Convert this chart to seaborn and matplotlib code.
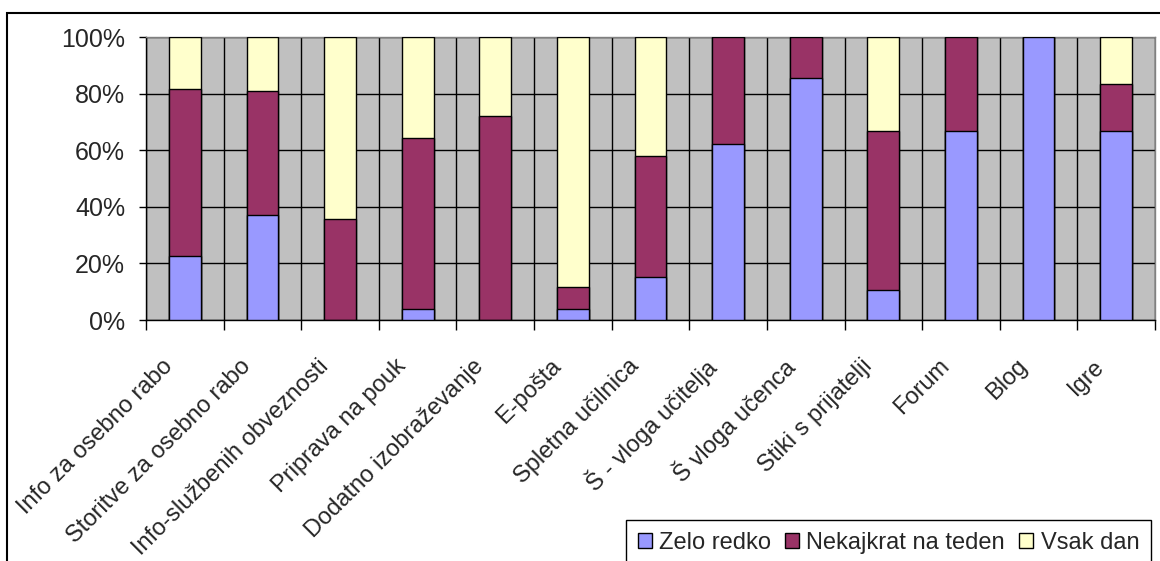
import numpy as np
import matplotlib
matplotlib.use("Agg")
import matplotlib.pyplot as plt
import matplotlib.transforms as mtrans
from matplotlib.patches import Rectangle, Patch
from matplotlib.ticker import FuncFormatter
import seaborn as sns

categories = ["Info za osebno rabo", "Storitve za osebno rabo", "Info-službenih obveznosti",
              "Priprava na pouk", "Dodatno izobraževanje", "E-pošta", "Spletna učilnica",
              "Š - vloga učitelja", "Š vloga učenca", "Stiki s prijatelji", "Forum", "Blog", "Igre"]
zelo_redko = [22.7, 37.1, 0.0, 3.9, 0.0, 3.9, 15.3, 62.1, 85.7, 10.6, 66.7, 100.0, 66.7]
nekajkrat = [59.0, 44.0, 35.8, 60.4, 72.3, 7.7, 42.8, 37.9, 14.3, 56.4, 33.3, 0.0, 16.7]
vsak_dan = [18.3, 18.9, 64.2, 35.7, 27.7, 88.4, 41.9, 0.0, 0.0, 33.0, 0.0, 0.0, 16.6]
series_names = ["Zelo redko", "Nekajkrat na teden", "Vsak dan"]
colors = ["#9999FF", "#993366", "#FFFFCC"]

sns.set_style("white")
plt.rcParams['font.family'] = ['Liberation Sans', 'DejaVu Sans']
plt.rcParams['font.size'] = 17

fig = plt.figure(figsize=(11.6, 5.61), dpi=100)
ax = fig.add_axes([146 / 1160, 1 - 320 / 561, 1009 / 1160, 282.7 / 561])
ax.set_facecolor("#C0C0C0")
ax.set_axisbelow(True)

# stacked: draw cumulative totals from the top layer down
cum1 = np.array(zelo_redko)
cum2 = cum1 + np.array(nekajkrat)
cum3 = cum2 + np.array(vsak_dan)
for vals, col in zip([cum3, cum2, cum1], colors[::-1]):
    sns.barplot(x=categories, y=vals, color=col, saturation=1, width=0.41,
                edgecolor="black", linewidth=1, ax=ax, zorder=3)

ax.set_xlim(-0.5, len(categories) - 0.5)
ax.set_ylim(0, 100)
ax.set_yticks(np.arange(0, 101, 20))
ax.yaxis.set_major_formatter(FuncFormatter(lambda v, p: f"{v:.0f}%"))

# ticks at category boundaries, labels at centres
ax.set_xticks(np.arange(-0.5, len(categories), 1))
ax.set_xticklabels([])
ax.set_xticks(np.arange(len(categories)), minor=True)
ax.set_xticklabels(categories, minor=True, rotation=45, ha="right",
                   va="center", rotation_mode="anchor")
ax.tick_params(axis="x", which="major", length=7, width=1, color="black", direction="out")
ax.tick_params(axis="x", which="minor", length=0, pad=31)
ax.tick_params(axis="y", length=5, width=1, color="black", direction="out", pad=10, labelsize=18)
ax.tick_params(bottom=True, left=True, which="both")
shift = mtrans.ScaledTranslation(-15 / 100, 0, fig.dpi_scale_trans)
for lab in ax.get_xticklabels(minor=True):
    lab.set_transform(lab.get_transform() + shift)

ax.grid(True, which="major", axis="both", color="black", linewidth=1)
ax.set_xlabel("")
ax.set_ylabel("")

for side in ["top", "right"]:
    ax.spines[side].set_color("#808080")
    ax.spines[side].set_linewidth(1)
for side in ["left", "bottom"]:
    ax.spines[side].set_color("black")
    ax.spines[side].set_linewidth(1)

# outer chart border
fig.patches.append(Rectangle((7 / 1160, -0.05), 1.1, 1.05 - 13 / 561, transform=fig.transFigure,
                             fill=False, edgecolor="black", linewidth=1.5))

handles = [Patch(facecolor=c, edgecolor="black", linewidth=1) for c in colors]
leg = fig.legend(handles, series_names, loc="upper left", bbox_to_anchor=(626 / 1160, 1 - 520 / 561),
                 ncol=3, frameon=True, fancybox=False, edgecolor="black",
                 handlelength=0.6, handleheight=0.6, handletextpad=0.3, columnspacing=0.6,
                 borderpad=0.5, borderaxespad=0, fontsize=17)
leg.get_frame().set_linewidth(1)
leg.get_frame().set_alpha(1)

fig.savefig("out.png", dpi=100)
